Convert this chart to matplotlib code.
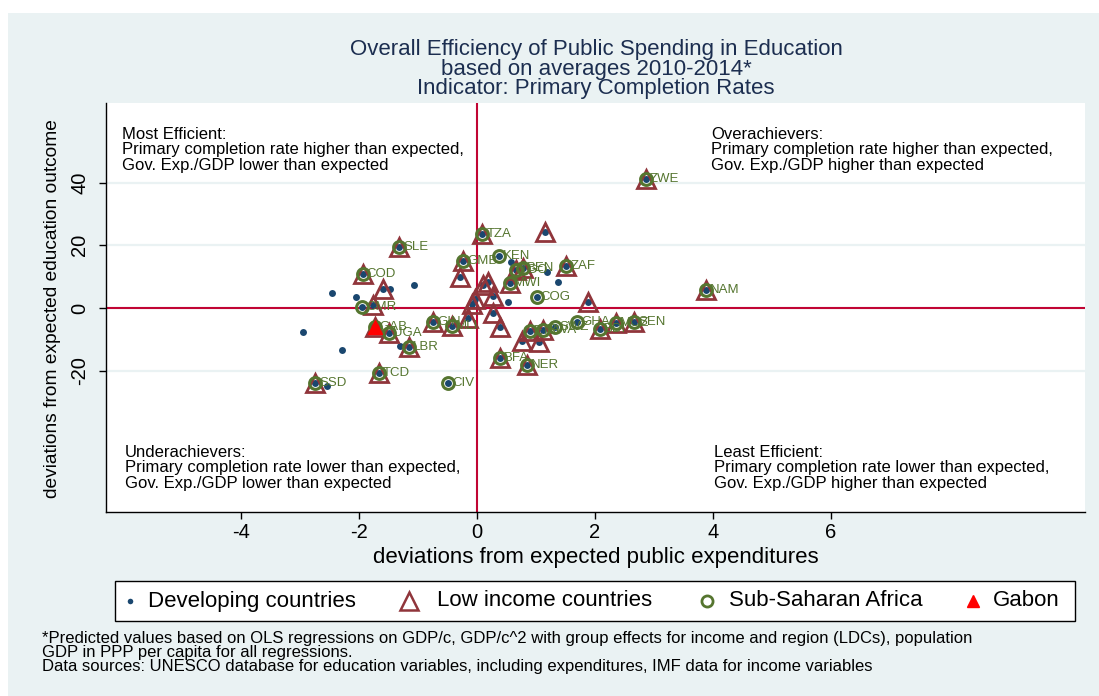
import matplotlib
matplotlib.use('Agg')
import matplotlib.pyplot as plt
from matplotlib.patches import Rectangle

plt.rcParams['font.family'] = ['Liberation Sans', 'DejaVu Sans']
plt.rcParams['axes.unicode_minus'] = False

# Stata s2color-like palette
NAVY, MAROON, GREEN, RED = '#1a476f', '#90353b', '#55752f', '#ff0000'
CRANBERRY, BLUISH = '#c10534', '#eaf2f3'
TITLE_C = '#1c2e50'

# every point is a developing country; flags mark the other groups
codes = ['ZWE', 'TZA', 'SLE', 'GMB', 'COD', 'TGO', 'BEN', 'ZAF', 'MWI', 'UGA',
         'LBR', 'GIN', 'MLI', 'TCD', 'SSD', 'BFA', 'NER', 'ETH', 'RWA', 'BDI',
         'MOZ', 'SEN', 'NAM',
         'KEN', 'COG', 'CMR', 'CIV', 'SWZ', 'GHA',
         'GAB',
         '', '', '', '', '', '', '', '', '', '', '', '', '', '', '',
         '', '', '', '', '', '', '', '', '', '', '', '']
dev_x = [2.86, 0.09, -1.32, -0.23, -1.94, 0.66, 0.78, 1.51, 0.56, -1.49,
         -1.16, -0.74, -0.43, -1.66, -2.75, 0.39, 0.85, 0.90, 1.12, 2.08,
         2.36, 2.67, 3.88,
         0.37, 1.01, -1.95, -0.49, 1.32, 1.70,
         -1.73,
         1.16, -0.29, 0.11, 0.19, 0.28, -0.03, -0.09, 1.89, 0.28, -0.15,
         0.39, -1.76, -1.59, 0.77, 1.06,
         0.58, 1.18, 1.38, -1.06, -2.45, -2.05, -1.47, 0.53, -2.95, -2.28,
         -1.31, -2.55]
dev_y = [41.2, 23.6, 19.6, 15.1, 10.8, 12.2, 12.8, 13.4, 7.9, -7.9,
         -12.4, -4.4, -5.8, -20.9, -23.8, -16.0, -18.2, -7.3, -7.0, -6.7,
         -4.9, -4.4, 5.6,
         16.7, 3.6, 0.2, -23.8, -6.2, -4.4,
         -6.0,
         24.1, 10.0, 7.4, 8.4, 3.9, 2.9, 1.2, 2.0, -1.7, -3.1,
         -6.0, 1.0, 6.0, -10.5, -10.8,
         14.8, 11.6, 8.4, 7.4, 4.7, 3.6, 6.0, 2.0, -7.6, -13.4,
         -12.2, -24.9]
low_income = [1] * 23 + [0] * 6 + [1] + [1] * 15 + [0] * 12
ssa = [1] * 23 + [1] * 6 + [1] + [0] * 15 + [0] * 12
gabon = [0] * 29 + [1] + [0] * 27

x_ticks = [-4, -2, 0, 2, 4, 6]
y_ticks = [-20, 0, 20, 40]
legend_labels = ['Developing countries', 'Low income countries', 'Sub-Saharan Africa', 'Gabon']

W, H = 1099, 696
fig = plt.figure(figsize=(W / 100, H / 100), dpi=100)
fig.patches.append(Rectangle((8 / W, 0), 1, 1 - 13 / H, transform=fig.transFigure,
                             facecolor=BLUISH, edgecolor='none', zorder=-10))


def fx(px):
    return px / W


def fy(py):
    return 1 - py / H


ax = fig.add_axes([fx(106), fy(512), (1085 - 106) / W, (512 - 103) / H])
ax.set_facecolor('white')
ax.set_xlim(-6.29, 10.31)
ax.set_ylim(-65.1, 65.4)
for s in ('top', 'right'):
    ax.spines[s].set_visible(False)
for s in ('left', 'bottom'):
    ax.spines[s].set_linewidth(1.0)
ax.set_xticks(x_ticks)
ax.set_yticks(y_ticks)
ax.tick_params(axis='both', direction='out', length=5, width=1, labelsize=14.5)
ax.tick_params(axis='x', pad=3)
ax.tick_params(axis='y', pad=7)
for lab in ax.get_yticklabels():
    lab.set_rotation(90)
    lab.set_va('center')
for yv in y_ticks:
    ax.axhline(yv, color=BLUISH, lw=1.6, zorder=0)
ax.axhline(0, color=CRANBERRY, lw=1.5, zorder=1)
ax.axvline(0, color=CRANBERRY, lw=1.5, zorder=1)

li_x = [x for x, f in zip(dev_x, low_income) if f]
li_y = [y for y, f in zip(dev_y, low_income) if f]
ss_x = [x for x, f in zip(dev_x, ssa) if f]
ss_y = [y for y, f in zip(dev_y, ssa) if f]
gb_x = [x for x, f in zip(dev_x, gabon) if f]
gb_y = [y for y, f in zip(dev_y, gabon) if f]

ax.plot(dev_x, dev_y, 'o', color=NAVY, ms=5, mec='none', zorder=3)
ax.plot(li_x, li_y, '^', mfc='none', mec=MAROON, mew=2.0, ms=13, zorder=4)
ax.plot(ss_x, ss_y, 'o', mfc='none', mec=GREEN, mew=2.2, ms=8.5, zorder=5)
ax.plot(gb_x, gb_y, '^', color=RED, mec=RED, ms=10, zorder=6)
for c, x, y in zip(codes, dev_x, dev_y):
    if c:
        ax.annotate(c, (x, y), xytext=(3, 0), textcoords='offset points',
                    va='center', ha='left', fontsize=9.5, color=GREEN, zorder=7)

# quadrant notes
qfs, qls = 12, 1.03
fig.text(fx(122), fy(127), 'Most Efficient:\nPrimary completion rate higher than expected,\n'
         'Gov. Exp./GDP lower than expected', fontsize=qfs, linespacing=qls, va='top')
fig.text(fx(711), fy(127), 'Overachievers:\nPrimary completion rate higher than expected,\n'
         'Gov. Exp./GDP higher than expected', fontsize=qfs, linespacing=qls, va='top')
fig.text(fx(125), fy(445), 'Underachievers:\nPrimary completion rate lower than expected,\n'
         'Gov. Exp./GDP lower than expected', fontsize=qfs, linespacing=qls, va='top')
fig.text(fx(714), fy(445), 'Least Efficient:\nPrimary completion rate lower than expected,\n'
         'Gov. Exp./GDP higher than expected', fontsize=qfs, linespacing=qls, va='top')

fig.text(fx(596), fy(69), 'Overall Efficiency of Public Spending in Education\n'
         'based on averages 2010-2014*\nIndicator: Primary Completion Rates',
         ha='center', va='center', fontsize=16, linespacing=0.92, color=TITLE_C)
fig.text(fx(596), fy(557), 'deviations from expected public expenditures',
         ha='center', va='center', fontsize=16)
fig.text(fx(53), fy(309), 'deviations from expected education outcome',
         ha='center', va='center', rotation=90, fontsize=13.8)

# legend box, laid out in figure pixels like the Stata key
lax = fig.add_axes([0, 0, 1, 1], zorder=5)
lax.set_xlim(0, W)
lax.set_ylim(H, 0)
lax.axis('off')
lax.add_patch(Rectangle((115, 581), 960, 40, facecolor='white', edgecolor='black', lw=1.0))
key_styles = [
    dict(marker='o', color=NAVY, ms=4, mec='none'),
    dict(marker='^', mfc='none', mec=MAROON, mew=1.8, ms=13),
    dict(marker='o', mfc='none', mec=GREEN, mew=2.0, ms=8),
    dict(marker='^', color=RED, mec=RED, ms=9),
]
key_px = [(130, 148), (409, 437), (707, 729), (973, 993)]
for (mx, tx), st, lab in zip(key_px, key_styles, legend_labels):
    lax.plot([mx], [601], ls='none', **st)
    lax.text(tx, 601, lab, fontsize=16, va='center', ha='left')

fig.text(fx(42), fy(638), '*Predicted values based on OLS regressions on GDP/c, GDP/c^2 with '
         'group effects for income and region (LDCs), population', va='center', fontsize=12)
fig.text(fx(42), fy(653), 'GDP in PPP per capita for all regressions.', va='center', fontsize=12)
fig.text(fx(42), fy(667), 'Data sources: UNESCO database for education variables, including '
         'expenditures, IMF data for income variables', va='center', fontsize=12)

fig.savefig('out.png', dpi=100, facecolor='white')
